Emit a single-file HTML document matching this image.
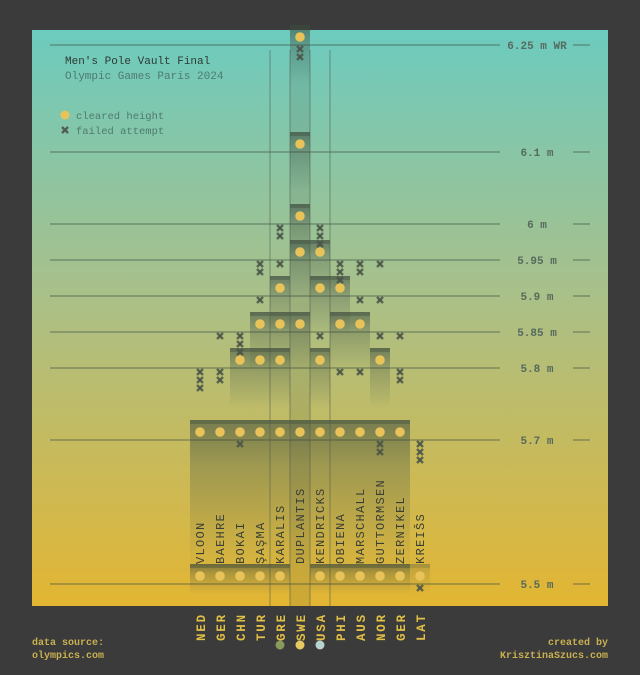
<!DOCTYPE html>
<html><head><meta charset="utf-8"><style>
html,body{margin:0;padding:0;background:#3b3b3b;}
svg{display:block;font-family:"Liberation Mono",monospace;}
</style></head><body>
<svg id="s" width="640" height="675" xmlns="http://www.w3.org/2000/svg">
<defs>
<linearGradient id="bg" x1="0" y1="0" x2="0" y2="1">
<stop offset="0" stop-color="#6ccbbf"/><stop offset="0.45" stop-color="#a8c08a"/><stop offset="1" stop-color="#e3b532"/>
</linearGradient>
<linearGradient id="band" x1="0" y1="0" x2="0" y2="1">
<stop offset="0" stop-color="#3c4a3c" stop-opacity="0.55"/><stop offset="0.3" stop-color="#3c4a3c" stop-opacity="0.3"/><stop offset="1" stop-color="#3c4a3c" stop-opacity="0"/>
</linearGradient>
</defs>
<rect x="32" y="30" width="576" height="576" fill="url(#bg)"/>
<rect x="290" y="30" width="20" height="576" fill="#3c4a3c" fill-opacity="0.12"/>
<g id="lines"></g>
<g id="bands"></g>
<g stroke="#4a5a4a" stroke-opacity="0.55" stroke-width="1">
<line x1="270" y1="50" x2="270" y2="606"/><line x1="290" y1="50" x2="290" y2="606"/>
<line x1="310" y1="50" x2="310" y2="606"/><line x1="330" y1="50" x2="330" y2="606"/>
</g>
<g id="marks"></g>
<text x="65" y="64" font-size="11" fill="#2e3a34">Men's Pole Vault Final</text>
<text x="65" y="79" font-size="11" fill="#4f7a70">Olympic Games Paris 2024</text>
<circle cx="65" cy="115" r="4.5" fill="#e8c35a"/>
<text x="76" y="119" font-size="10.5" fill="#4f7a70">cleared height</text>
<g stroke="#4f5e54" stroke-width="2.4"><line x1="62" y1="127" x2="68" y2="133"/><line x1="68" y1="127" x2="62" y2="133"/></g>
<text x="76" y="134" font-size="10.5" fill="#4f7a70">failed attempt</text>
<g font-size="10" font-weight="bold" fill="#c9b050">
<text x="32" y="645">data source:</text><text x="32" y="658">olympics.com</text>
<text x="608" y="645" text-anchor="end">created by</text><text x="608" y="658" text-anchor="end">KrisztinaSzucs.com</text>
</g>
<circle cx="280" cy="645" r="4.5" fill="#8a9a5a"/>
<circle cx="300" cy="645" r="4.5" fill="#e8c860"/>
<circle cx="320" cy="645" r="4.5" fill="#b8d2d0"/>
</svg>
<script>
const NS="http://www.w3.org/2000/svg";
function el(p,t,a,txt){const e=document.createElementNS(NS,t);for(const k in a)e.setAttribute(k,a[k]);if(txt)e.textContent=txt;p.appendChild(e);return e;}
const L=document.getElementById('lines'),B=document.getElementById('bands'),M=document.getElementById('marks');
const H={"6.25":37,"6.1":144,"6":216,"5.95":252,"5.9":288,"5.85":324,"5.8":360,"5.7":432,"5.5":576};
const labels=[["6.25","6.25 m WR"],["6.1","6.1 m"],["6","6 m"],["5.95","5.95 m"],["5.9","5.9 m"],["5.85","5.85 m"],["5.8","5.8 m"],["5.7","5.7 m"],["5.5","5.5 m"]];
labels.forEach(([h,t])=>{const y=H[h]+8;
el(L,'line',{x1:50,y1:y,x2:500,y2:y,stroke:'#3e4e44','stroke-opacity':0.55,'stroke-width':1.3});
el(L,'line',{x1:573,y1:y,x2:590,y2:y,stroke:'#3e4e44','stroke-opacity':0.55,'stroke-width':1.3});
el(L,'text',{x:537,y:y+4,'font-size':11,'font-weight':'bold',fill:'#566a5e','text-anchor':'middle'},t);});
const A=[
["NED","VLOON",["5.5","5.7"],{"5.8":3}],
["GER","BAEHRE",["5.5","5.7"],{"5.8":2,"5.85":1}],
["CHN","BOKAI",["5.5","5.7","5.8"],{"5.7":1,"5.85":3}],
["TUR","ŞAŞMA",["5.5","5.7","5.8","5.85"],{"5.9":1,"5.95":2}],
["GRE","KARALIS",["5.5","5.7","5.8","5.85","5.9"],{"5.95":1,"6":2}],
["SWE","DUPLANTIS",["5.7","5.85","5.95","6","6.1","6.25"],{"6.25":2}],
["USA","KENDRICKS",["5.5","5.7","5.8","5.9","5.95"],{"5.85":1,"6":3}],
["PHI","OBIENA",["5.5","5.7","5.85","5.9"],{"5.8":1,"5.95":3}],
["AUS","MARSCHALL",["5.5","5.7","5.85"],{"5.8":1,"5.9":1,"5.95":2}],
["NOR","GUTTORMSEN",["5.5","5.7","5.8"],{"5.7":2,"5.85":1,"5.9":1,"5.95":1}],
["GER","ZERNIKEL",["5.5","5.7"],{"5.8":2,"5.85":1}],
["LAT","KREIŠS",["5.5"],{"5.5":1,"5.7":3}]];
A.forEach(([c,n,cl,f],i)=>{const x=200+i*20;
cl.forEach(h=>{const y=H[h];const ln=(h=="5.5")?30:(h=="5.7"?150:60);
const op=(c=="LAT")?0.4:1;
el(B,'rect',{x:x-10,y:y-12,width:20,height:ln,fill:'url(#band)',opacity:op});
el(B,'rect',{x:x-10,y:y-12,width:20,height:4,fill:'#3c4a3c','fill-opacity':0.35*op});
el(M,'circle',{cx:x,cy:y,r:4.8,fill:'#e8c35a'});});
for(const h in f){for(let k=0;k<f[h];k++){const y=H[h]+12+k*8;
const g=el(M,'g',{stroke:'#4a5448','stroke-width':2.4,'stroke-opacity':0.85});
el(g,'line',{x1:x-3,y1:y-3,x2:x+3,y2:y+3});el(g,'line',{x1:x+3,y1:y-3,x2:x-3,y2:y+3});}}
el(M,'text',{x:x+4,y:564,'font-size':12,fill:'#3a3f36',transform:`rotate(-90 ${x+4} 564)`,'letter-spacing':'1.3'},n);
el(M,'text',{x:x+5,y:641,'font-size':12.5,'font-weight':'bold',fill:'#e2bf45',transform:`rotate(-90 ${x+5} 641)`,'letter-spacing':'1.8'},c);
});
</script>
</body></html>
